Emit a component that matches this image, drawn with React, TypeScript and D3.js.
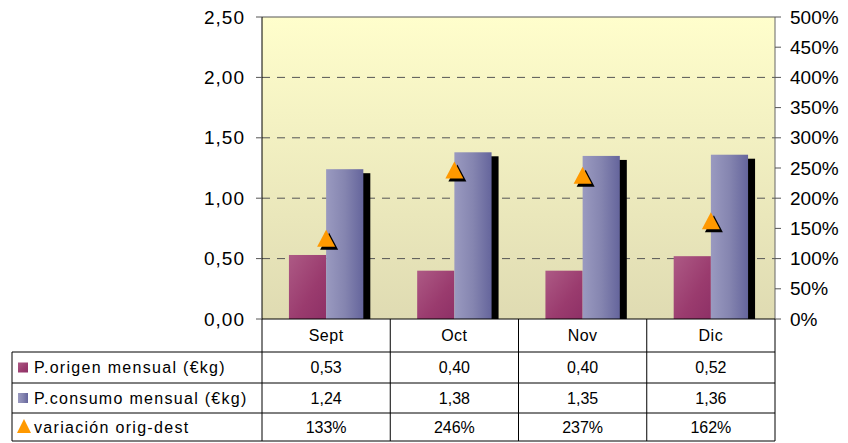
import React from 'react';
import * as d3 from 'd3';

const months = ['Sept', 'Oct', 'Nov', 'Dic'];
const origen = [0.53, 0.4, 0.4, 0.52];
const consumo = [1.24, 1.38, 1.35, 1.36];
const variacion = [133, 246, 237, 162];
const leftTicks = [0, 0.5, 1, 1.5, 2, 2.5];
const rightTicks = [0, 50, 100, 150, 200, 250, 300, 350, 400, 450, 500];
const rowLabels = ['P.origen mensual (€kg)', 'P.consumo mensual (€kg)', 'variación orig-dest'];

const W = 848;
const H = 443;
const plot = { left: 262, right: 775, top: 17, bottom: 319 };
const rows = [319, 352, 383, 413, 441];
const tableLeft = 12;
const font = '"Liberation Sans", Arial, sans-serif';

const comma = (v: number) => d3.format('.2f')(v).replace('.', ',');

const App = () => {
  const x = d3.scaleBand().domain(months).range([plot.left, plot.right]);
  const y = d3.scaleLinear().domain([0, 2.5]).range([plot.bottom, plot.top]);
  const y2 = d3.scaleLinear().domain([0, 500]).range([plot.bottom, plot.top]);
  const barW = x.bandwidth() * 0.29;
  const cx = (m: string) => (x(m) as number) + x.bandwidth() / 2;
  const tri = (px: number, py: number) => {
    const s = 9;
    return `M${px},${py - s}L${px + s},${py + 8}L${px - s},${py + 8}Z`;
  };

  return (
    <svg width={W} height={H} style={{ position: 'absolute', left: 0, top: 0, background: '#fff' }} fontFamily={font}>
      <defs>
        <linearGradient id="bg" x1="0" y1="0" x2="0" y2="1">
          <stop offset="0" stopColor="#fffecc" />
          <stop offset="1" stopColor="#dfdbb2" />
        </linearGradient>
        <linearGradient id="pink" x1="0" y1="0" x2="1" y2="1">
          <stop offset="0" stopColor="#ad5a85" />
          <stop offset="0.6" stopColor="#9a3b6e" />
          <stop offset="1" stopColor="#8e3066" />
        </linearGradient>
        <linearGradient id="blue" x1="0" y1="0" x2="1" y2="0">
          <stop offset="0" stopColor="#9a9ac0" />
          <stop offset="0.5" stopColor="#8585b0" />
          <stop offset="1" stopColor="#65659c" />
        </linearGradient>
        <clipPath id="plotClip">
          <rect x={plot.left} y={plot.top} width={plot.right - plot.left + 20} height={plot.bottom - plot.top} />
        </clipPath>
      </defs>

      {/* plot background */}
      <rect x={plot.left} y={plot.top} width={plot.right - plot.left} height={plot.bottom - plot.top} fill="url(#bg)" />

      {/* gridlines */}
      {leftTicks.filter((t) => t > 0).map((t) => (
        <line key={t} x1={plot.left} x2={plot.right} y1={y(t)} y2={y(t)}
          stroke="#555" strokeWidth={1} strokeDasharray={t === 2.5 ? 'none' : '8,7'} />
      ))}

      {/* bars */}
      <g clipPath="url(#plotClip)">
        {months.map((m, i) => (
          <g key={m}>
            <rect x={cx(m) + 7} y={y(consumo[i]) + 4} width={barW} height={plot.bottom - y(consumo[i])} fill="#000" />
            <rect x={cx(m) - barW} y={y(origen[i])} width={barW} height={plot.bottom - y(origen[i])} fill="url(#pink)" />
            <rect x={cx(m)} y={y(consumo[i])} width={barW} height={plot.bottom - y(consumo[i])} fill="url(#blue)" />
          </g>
        ))}
        {months.map((m, i) => (
          <g key={m + 't'}>
            <path d={tri(cx(m) + 3, y2(variacion[i]) + 3)} fill="#000" />
            <path d={tri(cx(m), y2(variacion[i]))} fill="#ff9900" />
          </g>
        ))}
      </g>

      {/* axes */}
      <line x1={plot.left} x2={plot.left} y1={plot.top} y2={plot.bottom} stroke="#000" />
      <line x1={plot.right} x2={plot.right} y1={plot.top} y2={plot.bottom} stroke="#666" />
      {leftTicks.map((t) => (
        <g key={t}>
          <line x1={plot.left - 6} x2={plot.left} y1={y(t)} y2={y(t)} stroke="#555" />
          <text x={245} y={y(t)} dy="0.35em" textAnchor="end" fontSize={19} letterSpacing={1}>{comma(t)}</text>
        </g>
      ))}
      {rightTicks.map((t) => (
        <g key={t}>
          <line x1={plot.right} x2={plot.right + 6} y1={y2(t)} y2={y2(t)} stroke="#555" />
          <text x={790} y={y2(t)} dy="0.35em" fontSize={19}>{t + '%'}</text>
        </g>
      ))}

      {/* data table */}
      <g stroke="#000" strokeWidth={1}>
        <line x1={plot.left} x2={plot.right} y1={rows[0]} y2={rows[0]} />
        {rows.slice(1).map((r) => (
          <line key={r} x1={tableLeft} x2={plot.right} y1={r} y2={r} />
        ))}
        <line x1={tableLeft} x2={tableLeft} y1={rows[1]} y2={rows[4]} />
        {months.map((m) => (
          <line key={m} x1={x(m) as number} x2={x(m) as number} y1={rows[0]} y2={rows[4]} />
        ))}
        <line x1={plot.right} x2={plot.right} y1={rows[0]} y2={rows[4]} />
      </g>
      {months.map((m, i) => {
        const cells = [comma(origen[i]), comma(consumo[i]), variacion[i] + '%'];
        return (
          <g key={m} fontSize={16} textAnchor="middle">
            <text x={cx(m)} y={(rows[0] + rows[1]) / 2} dy="0.35em" letterSpacing={0.5}>{m}</text>
            {cells.map((c, j) => (
              <text key={j} x={cx(m)} y={(rows[j + 1] + rows[j + 2]) / 2} dy="0.35em">{c}</text>
            ))}
          </g>
        );
      })}
      {rowLabels.map((l, j) => {
        const my = (rows[j + 1] + rows[j + 2]) / 2;
        return (
          <g key={l}>
            {j < 2 ? (
              <rect x={18} y={my - 5} width={10} height={10} fill={j === 0 ? 'url(#pink)' : 'url(#blue)'} />
            ) : (
              <path d={`M24,${my - 8}L31,${my + 6}L17,${my + 6}Z`} fill="#ff9900" />
            )}
            <text x={34} y={my} dy="0.35em" fontSize={16} letterSpacing={1.3}>{l}</text>
          </g>
        );
      })}
    </svg>
  );
};

export default App;
